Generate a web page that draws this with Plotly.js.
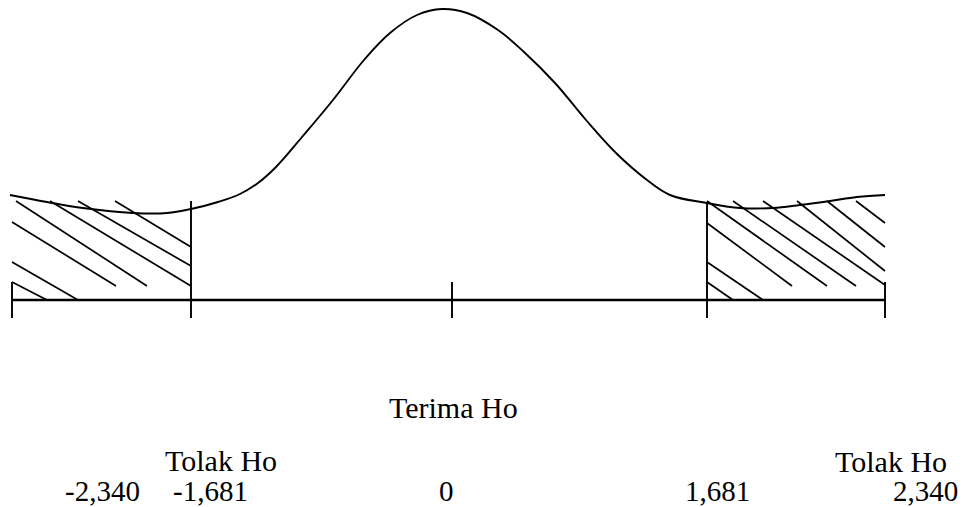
<!DOCTYPE html>
<html>
<head>
<meta charset="utf-8">
<script src="https://cdn.plot.ly/plotly-3.0.1.min.js"></script>
<style>html,body{margin:0;padding:0;background:#fff;}#chart{width:965px;height:507px;}</style>
</head>
<body>
<div id="chart"></div>
<script>
// Hand-drawn diagram frame: x 0..965 (left→right), y 0..507 (top→bottom)
// Bell curve
var curveX = [10, 47, 83, 133, 167, 191, 218, 240, 258, 276, 302, 333, 364, 390, 417, 442, 467, 498, 524, 555, 586, 616, 647, 670, 707, 740, 773, 800, 830, 857, 885];
var curveY = [195, 202, 208, 213, 213, 209, 202, 194, 183, 167, 137, 100, 60, 33, 15, 9, 13, 30, 52, 83, 120, 153, 180, 195, 203, 208, 208, 205, 201, 197, 195];

// Horizontal axis line
var axisX = [12, 885];
var axisY = [300, 300];

// Vertical marks: tail boundaries and ticks
var vertX = [12, 191, 452, 707, 885];
var vertTop = [282, 201, 282, 202, 282];
var vertBottom = [318, 318, 318, 318, 318];

// Hatch segments (start / end) in the rejection regions
var hatchX0 = [12, 12, 12, 16, 50, 78, 115, 707, 707, 707, 707, 733, 763, 797, 827, 856];
var hatchY0 = [282, 262, 222, 201, 201, 201, 201, 282, 262, 223, 201, 201, 201, 201, 201, 201];
var hatchX1 = [47, 78, 116, 147, 191, 191, 191, 733, 763, 792, 827, 856, 885, 885, 885, 885];
var hatchY1 = [300, 300, 286, 286, 286, 266, 247, 300, 300, 286, 286, 286, 285, 271, 247, 223];

// Region labels
var regionText = ["Terima Ho", "Tolak Ho", "Tolak Ho"];
var regionX = [453, 221, 891];
var regionY = [407, 460, 461];

// Critical-value labels
var valueText = ["-2,340", "-1,681", "0", "1,681", "2,340"];
var valueX = [102, 210, 446, 717, 925];
var valueY = [491, 491, 491, 491, 491];

function segs(x0, y0, x1, y1) {
  var xs = [], ys = [];
  for (var i = 0; i < x0.length; i++) {
    xs.push(x0[i], x1[i], null);
    ys.push(y0[i], y1[i], null);
  }
  return {x: xs, y: ys};
}

var hatch = segs(hatchX0, hatchY0, hatchX1, hatchY1);
var vx = [], vy = [];
for (var i = 0; i < vertX.length; i++) {
  vx.push(vertX[i], vertX[i], null);
  vy.push(vertTop[i], vertBottom[i], null);
}

var traces = [
  {x: curveX, y: curveY, mode: 'lines', line: {color: '#000', width: 1.9, shape: 'spline', smoothing: 1.1}, hoverinfo: 'skip'},
  {x: hatch.x, y: hatch.y, mode: 'lines', line: {color: '#000', width: 1.7}, hoverinfo: 'skip', connectgaps: false},
  {x: vx, y: vy, mode: 'lines', line: {color: '#000', width: 1.9}, hoverinfo: 'skip', connectgaps: false},
  {x: axisX, y: axisY, mode: 'lines', line: {color: '#000', width: 2.3}, hoverinfo: 'skip'}
];

var serif = 'Liberation Serif';
function ann(t, x, y, size) {
  return {
    x: x, y: y, xref: 'x', yref: 'y', text: t, showarrow: false,
    xanchor: 'center', yanchor: 'middle', borderpad: 0,
    font: {family: serif, size: size, color: '#000'}
  };
}
var annotations = [];
regionText.forEach(function (t, i) { annotations.push(ann(t, regionX[i], regionY[i], 30)); });
valueText.forEach(function (t, i) { annotations.push(ann(t, valueX[i], valueY[i], 29)); });

var layout = {
  width: 965, height: 507,
  margin: {l: 0, r: 0, t: 0, b: 0},
  paper_bgcolor: '#fff', plot_bgcolor: '#fff',
  font: {family: serif},
  showlegend: false,
  xaxis: {range: [0, 965], visible: false, fixedrange: true},
  yaxis: {range: [507, 0], visible: false, fixedrange: true},
  annotations: annotations
};

Plotly.newPlot('chart', traces, layout, {staticPlot: true, displayModeBar: false});
</script>
</body>
</html>
